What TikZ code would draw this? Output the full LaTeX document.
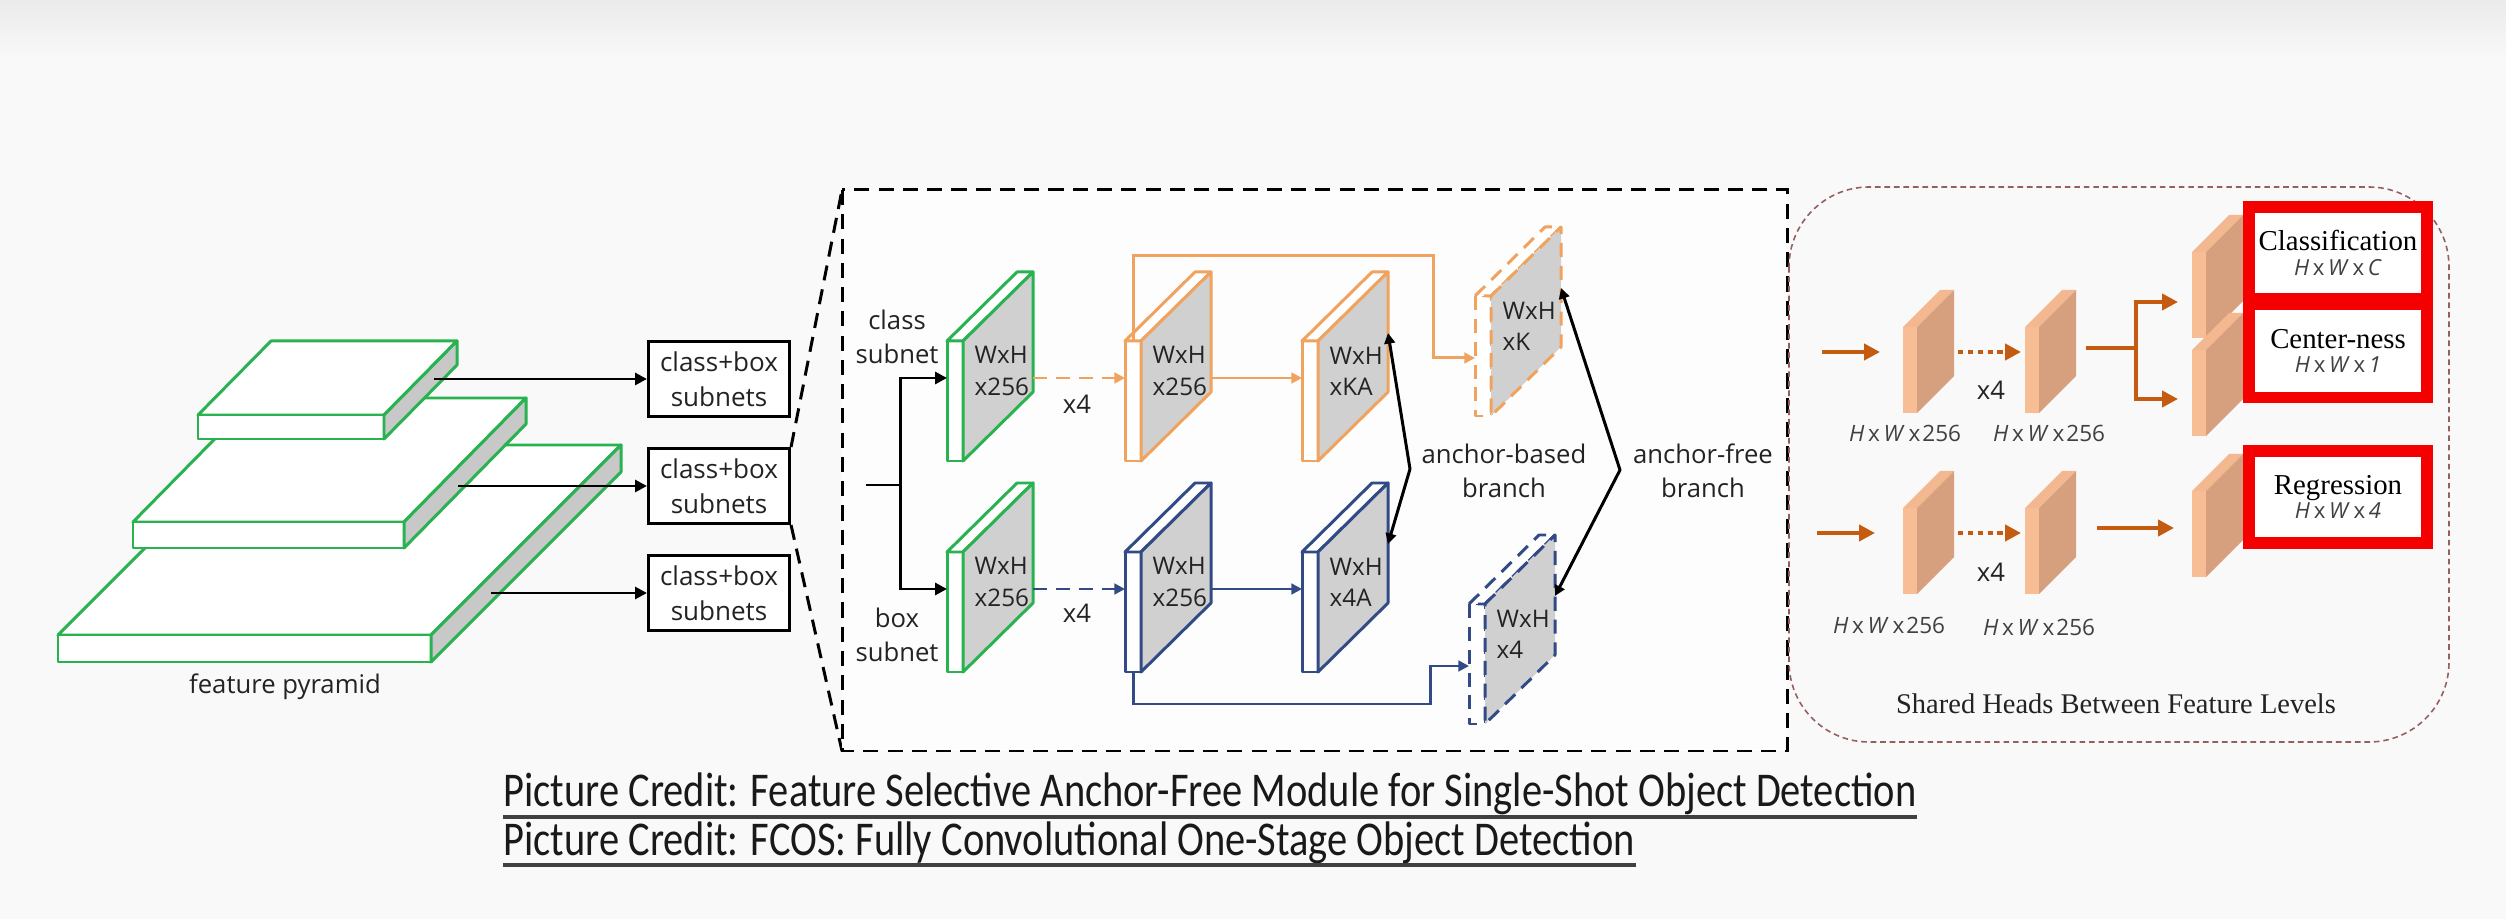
\documentclass[tikz,border=0pt]{standalone}
\usepackage{fontspec}
\usepackage{graphicx}
\setmainfont{Liberation Serif}
\newfontfamily\osans{Open Sans}
\newfontfamily\carl{Carlito}
\usetikzlibrary{arrows.meta,calc}
\definecolor{bg}{RGB}{249,249,249}
\definecolor{grn}{RGB}{40,178,80}
\definecolor{org}{RGB}{240,162,95}
\definecolor{blu}{RGB}{50,75,135}
\definecolor{facegray}{RGB}{208,208,208}
\definecolor{slabgray}{RGB}{200,200,200}
\definecolor{peachL}{RGB}{247,190,150}
\definecolor{peachT}{RGB}{244,184,145}
\definecolor{peachD}{RGB}{214,160,126}
\definecolor{brn}{RGB}{197,90,17}
\definecolor{redb}{RGB}{245,0,0}
\definecolor{rboxc}{RGB}{150,95,95}
\definecolor{txt}{RGB}{35,35,35}
\newcommand{\hwx}[1]{\textit{H}\,x\,\textit{W}\,x\kern0.6pt#1}
\newcommand{\rttl}{\rmfamily\fontsize{8.2}{9}\selectfont}
\newcommand{\rsub}{\osans\fontsize{6.3}{7.5}\selectfont\color{black!75}}
\tikzset{
  pics/mblk/.style n args={3}{code={
    \draw[#1,#2,line width=0.85pt,fill=white,line join=round] (0,0) rectangle (16,120);
    \draw[#1,#2,line width=0.85pt,fill=white,line join=round] (0,0) -- (70,-69) -- (86,-69) -- (16,0) -- cycle;
    \draw[#1,#2,line width=0.85pt,fill=facegray,line join=round] (16,0) -- (86,-69) -- (86,51) -- (16,120) -- cycle;
    \node[blktext,anchor=west] (-t) at (27,30) {#3};
    \coordinate (-w) at (0,37);
    \coordinate (-e) at (86,37);
    \coordinate (-er) at (86,-8);
    \coordinate (-n) at (8,0);
    \coordinate (-s) at (8,120);
    \coordinate (-w2) at (0,62);
  }},
  pics/fblk/.style={code={
    \fill[peachL] (0,0) rectangle (14,86);
    \fill[peachT] (0,0) -- (37,-37) -- (51,-37) -- (14,0) -- cycle;
    \fill[peachD] (14,0) -- (51,-37) -- (51,49) -- (14,86) -- cycle;
  }}
}
\begin{document}
\begin{tikzpicture}[x=0.01cm,y=-0.01cm,
  slab/.style={draw=grn,fill=white,line width=0.85pt,line join=round},
  cbox/.style={draw=black,fill=white,line width=0.85pt,minimum width=1.41cm,minimum height=0.75cm,inner sep=0,align=center,font=\osans\fontsize{7.4}{10}\selectfont,text=txt},
  lbl/.style={inner sep=0,align=center,font=\osans\fontsize{7.3}{9.6}\selectfont,text=txt},
  blktext/.style={inner sep=0,align=left,font=\osans\fontsize{6.9}{8.9}\selectfont,text=txt},
  karr/.style={line width=0.85pt,-{Triangle[length=3.4pt,width=3.4pt]}},
  oarr/.style={org,line width=0.85pt,-{Triangle[length=3pt,width=3pt]}},
  barr/.style={blu,line width=0.85pt,-{Triangle[length=3pt,width=3pt]}},
  dsh/.style={dash pattern=on 4pt off 2.5pt},
  dbl/.style={line width=0.85pt,line join=round,{Triangle[length=3pt,width=3pt]}-{Triangle[length=3pt,width=3pt]}},
  zoomline/.style={line width=0.85pt,dash pattern=on 4.3pt off 2.6pt},
  farr/.style={brn,line width=1.3pt,-{Triangle[length=4.5pt,width=4.5pt]}},
  fdot/.style={dash pattern=on 1.5pt off 1.3pt},
  flbl/.style={inner sep=0,font=\osans\fontsize{6.4}{8}\selectfont,text=black!75},
  redbox/.style={draw=redb,line width=3.4pt,fill=white,inner sep=0,align=center,minimum width=1.78cm},
  serl/.style={font=\rmfamily\fontsize{8.1}{9.5}\selectfont},
  captext/.style={inner sep=0,font=\carl\fontsize{11.5}{13}\selectfont,text=black!90}
]
\useasboundingbox (0,0) rectangle (2506,919);
\fill[bg] (0,0) rectangle (2506,919);
\shade[top color=black!8,bottom color=bg] (0,0) rectangle (2506,60);

% ---------------- feature pyramid ----------------
\filldraw[slab] (58,635) -- (248,445) -- (621,445) -- (431,635) -- cycle;
\filldraw[slab] (58,635) rectangle (431,662);
\filldraw[slab,fill=slabgray] (431,635) -- (621,445) -- (621,472) -- (431,662) -- cycle;
\filldraw[slab] (133,522) -- (255,398) -- (526,398) -- (404,522) -- cycle;
\filldraw[slab] (133,522) rectangle (404,548);
\filldraw[slab,fill=slabgray] (404,522) -- (526,398) -- (526,424) -- (404,548) -- cycle;
\filldraw[slab] (198,415) -- (271,341) -- (457,341) -- (384,415) -- cycle;
\filldraw[slab] (198,415) rectangle (384,439);
\filldraw[slab,fill=slabgray] (384,415) -- (457,341) -- (457,365) -- (384,439) -- cycle;
\node[lbl] (fp) at (285,687) {feature pyramid};

\coordinate (p1) at (434,379);
\coordinate (p2) at (458,486);
\coordinate (p3) at (491,593);
\coordinate (fr-nw) at (842,190);
\coordinate (fr-se) at (1787,751);
\coordinate (fr-sw) at (842,751);

\node[cbox] (cb1) at (719,379) {class+box\\subnets};
\node[cbox] (cb2) at (719,486) {class+box\\subnets};
\node[cbox] (cb3) at (719,593) {class+box\\subnets};
\draw[karr] (p1) -- (cb1.west);
\draw[karr] (p2) -- (cb2.west);
\draw[karr] (p3) -- (cb3.west);
\draw[zoomline] (cb2.north east) -- (fr-nw);
\draw[zoomline] (cb2.south east) -- (fr-sw);

% ---------------- FSAF frame ----------------
\draw[zoomline,fill=white!60!bg] (fr-nw) rectangle (fr-se);

\pic (g1) at (947,341) {mblk={grn}{solid}{WxH\\x256}};
\pic (g2) at (947,552) {mblk={grn}{solid}{WxH\\x256}};
\pic (o1) at (1125,341) {mblk={org}{solid}{WxH\\x256}};
\pic (o2) at (1302,341) {mblk={org}{solid}{WxH\\xKA}};
\pic (b1) at (1125,552) {mblk={blu}{solid}{WxH\\x256}};
\pic (b2) at (1302,552) {mblk={blu}{solid}{WxH\\x4A}};
\pic (ok) at (1475,296) {mblk={org}{dsh}{WxH\\xK}};
\pic (bk) at (1469,604) {mblk={blu}{dsh}{WxH\\x4}};

\node[lbl] (cs) at (897,337) {class\\subnet};
\node[lbl] (bs) at (897,635) {box\\subnet};
\node[lbl] (x4a) at (1077,404) {x4};
\node[lbl] (x4b) at (1077,613) {x4};
\node[lbl] (abr) at (1504,471) {anchor-based\\branch};
\node[lbl] (afr) at (1703,471) {anchor-free\\branch};

\coordinate (cin) at (866,485);
\coordinate (split) at (900,485);
\draw[line width=0.85pt] (cin) -- (split);
\draw[karr] (split) |- (g1-w);
\draw[karr] (split) |- (g2-w);
\draw[oarr,dsh] (g1-e) -- (o1-w);
\draw[oarr] (o1-e) -- (o2-w);
\draw[barr,dsh] (g2-e) -- (b1-w);
\draw[barr] (b1-e) -- (b2-w);
\coordinate (oloop) at (1433,256);
\coordinate (bloop) at (1430,704);
\draw[oarr] (o1-n) |- (oloop) |- (ok-w2);
\draw[barr] (b1-s) |- (bloop) |- (bk-w2);
\coordinate (abv) at (1410,469);
\coordinate (afv) at (1620,470);
\draw[dbl] (o2-er) -- (abv) -- (b2-er);
\draw[dbl] (ok-er) -- (afv) -- (bk-er);

% ---------------- FCOS head ----------------
\draw[rboxc,line width=0.45pt,dash pattern=on 1.6pt off 1.1pt,rounded corners=0.8cm] (1789,187) rectangle (2449,742);

\pic (f1) at (1903,327) {fblk};
\pic (f2) at (2025,327) {fblk};
\pic (fc) at (2192,252) {fblk};
\pic (fn) at (2192,350) {fblk};
\pic (f3) at (1903,508) {fblk};
\pic (f4) at (2025,508) {fblk};
\pic (fr) at (2192,491) {fblk};

\coordinate (fa1s) at (1822,352);
\coordinate (fa1e) at (1880,352);
\coordinate (fd1s) at (1958,352);
\coordinate (fd1e) at (2021,352);
\coordinate (fb1s) at (2086,348);
\coordinate (fbr) at (2136,348);
\coordinate (fbt) at (2178,302);
\coordinate (fbb) at (2178,399);
\coordinate (fa2s) at (1817,533);
\coordinate (fa2e) at (1875,533);
\coordinate (fd2s) at (1958,533);
\coordinate (fd2e) at (2021,533);
\coordinate (fr2s) at (2097,528);
\coordinate (fr2e) at (2174,528);
\draw[farr] (fa1s) -- (fa1e);
\draw[farr,fdot] (fd1s) -- (fd1e);
\draw[brn,line width=1.3pt] (fb1s) -- (fbr);
\draw[farr] (fbr) |- (fbt);
\draw[farr] (fbr) |- (fbb);
\draw[farr] (fa2s) -- (fa2e);
\draw[farr,fdot] (fd2s) -- (fd2e);
\draw[farr] (fr2s) -- (fr2e);

\node[lbl] (fx4a) at (1991,390) {x4};
\node[lbl] (fx4b) at (1991,572) {x4};
\node[flbl] (d1) at (1905,433) {\hwx{256}};
\node[flbl] (d2) at (2049,433) {\hwx{256}};
\node[flbl] (d3) at (1889,625) {\hwx{256}};
\node[flbl] (d4) at (2039,627) {\hwx{256}};

\node[redbox,minimum height=0.91cm] (cls) at (2338,253) {{\rttl Classification}\\[-5pt]{\rsub\textit{H}\,x\,\textit{W}\,x\,\textit{C}}};
\node[redbox,minimum height=0.93cm] (ctr) at (2338,351) {{\rttl Center-ness}\\[-5pt]{\rsub\textit{H}\,x\,\textit{W}\,x\,\textit{1}}};
\node[redbox,minimum height=0.92cm] (reg) at (2338,497) {{\rttl Regression}\\[-5pt]{\rsub\textit{H}\,x\,\textit{W}\,x\,\textit{4}}};

\node[serl,inner sep=0,text=txt] (shd) at (2116,704) {Shared Heads Between Feature Levels};

% ---------------- captions ----------------
\node[captext,anchor=base west] (cap1) at (503,807) {\scalebox{1}[1.2]{Picture Credit: Feature Selective Anchor-Free Module for Single-Shot Object Detection}};
\node[captext,anchor=base west] (cap2) at (503,855) {\scalebox{1}[1.2]{Picture Credit: FCOS: Fully Convolutional One-Stage Object Detection}};
\draw[line width=0.9pt,black!75] ($(cap1.base west)+(0,10)$) -- ($(cap1.base east)+(0,10)$);
\draw[line width=0.9pt,black!75] ($(cap2.base west)+(0,10)$) -- ($(cap2.base east)+(0,10)$);
\end{tikzpicture}
\end{document}
